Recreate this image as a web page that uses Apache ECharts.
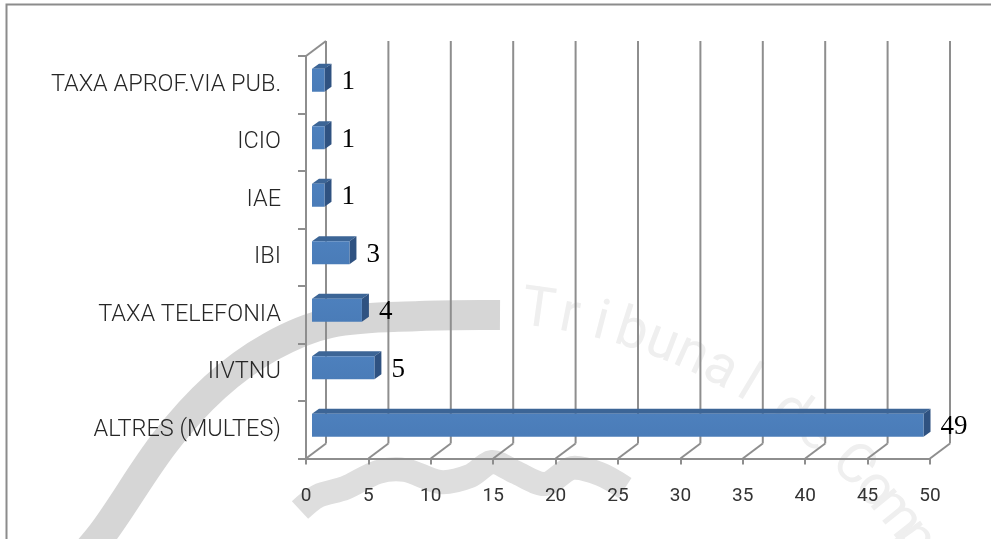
<!DOCTYPE html>
<html>
<head>
<meta charset="utf-8">
<script src="https://cdn.jsdelivr.net/npm/echarts@6/dist/echarts.min.js"></script>
<style>
  html, body { margin: 0; padding: 0; background: #fff; }
  #chart { width: 991px; height: 539px; }
</style>
</head>
<body>
<div id="chart"></div>
<script>
// data
const categories = ['TAXA APROF.VIA PUB.', 'ICIO', 'IAE', 'IBI', 'TAXA TELEFONIA', 'IIVTNU', 'ALTRES (MULTES)'];
const values = [1, 1, 1, 3, 4, 5, 49];
const xTicks = [0, 5, 10, 15, 20, 25, 30, 35, 40, 45, 50];

// fake 3d depth
const wallDx = 20, wallDy = -15;
const barShiftX = 6, barShiftY = -4.5, barH = 23, barDx = 7, barDy = -5;
const gridColor = '#8e8e8e';

const chart = echarts.init(document.getElementById('chart'));

function renderWall (params, api) {
    const t = api.value(0);
    const cs = params.coordSys;
    const xf = api.coord([t, 0])[0];
    const top = cs.y, bottom = cs.y + cs.height;
    const style = { stroke: gridColor, lineWidth: 2, fill: null };
    const children = [
        { type: 'line', shape: { x1: xf, y1: bottom, x2: xf + wallDx, y2: bottom + wallDy }, style },
        { type: 'line', shape: { x1: xf + wallDx, y1: bottom + wallDy, x2: xf + wallDx, y2: top + wallDy }, style }
    ];
    if (t === xTicks[0]) {
        children.push({ type: 'line', shape: { x1: xf, y1: top, x2: xf + wallDx, y2: top + wallDy }, style });
    }
    return { type: 'group', children };
}

function renderBar (params, api) {
    const v = api.value(0);
    const c = api.value(1);
    const p0 = api.coord([0, c]);
    const p1 = api.coord([v, c]);
    const x = p0[0] + barShiftX;
    const w = p1[0] - p0[0];
    const y = p0[1] + barShiftY - barH / 2;
    return {
        type: 'group',
        children: [
            { type: 'polygon', shape: { points: [[x, y], [x + w, y], [x + w + barDx, y + barDy], [x + barDx, y + barDy]] },
              style: { fill: '#3c6596' } },
            { type: 'polygon', shape: { points: [[x + w, y], [x + w + barDx, y + barDy], [x + w + barDx, y + barH + barDy], [x + w, y + barH]] },
              style: { fill: '#2f5281' } },
            { type: 'rect', shape: { x: x, y: y, width: w, height: barH },
              style: { fill: new echarts.graphic.LinearGradient(0, 0, 0, 1, [
                  { offset: 0, color: '#4d80bd' }, { offset: 1, color: '#4a7cb8' }]) } },
            { type: 'text', style: { text: String(v), x: x + w + barDx + 10, y: y + barH / 2 + 2,
              verticalAlign: 'middle', align: 'left', fill: '#000',
              font: '27px "Liberation Serif"' } }
        ]
    };
}

// watermark letters along an arc
const wmText = 'Tribunal de Comptes';
const wmLetters = [];
const wmCx = 463, wmCy = 861, wmR = 554;
let ang = -1.435;
for (let i = 0; i < wmText.length; i++) {
    const ch = wmText[i];
    wmLetters.push({
        type: 'text',
        x: wmCx + wmR * Math.cos(ang),
        y: wmCy + wmR * Math.sin(ang),
        rotation: -(ang + Math.PI / 2),
        z: -5,
        style: { text: ch, font: '56px Roboto', fill: '#efefef', align: 'center', verticalAlign: 'middle' }
    });
    ang += (ch === ' ' ? 18 : 32) / wmR;
}

const option = {
    animation: false,
    backgroundColor: '#fff',
    graphic: [
        { type: 'rect', z: -10, shape: { x: 6.5, y: 4.5, width: 1200, height: 800 },
          style: { fill: null, stroke: '#8c8c8c', lineWidth: 2 } },
        { type: 'polyline', z: -6, shape: { smooth: 0.35, points: [[80, 560], [105, 530], [165, 442], [215, 387],
              [270, 347], [330, 323], [420, 316], [500, 315]] },
          style: { fill: null, stroke: '#d6d6d6', lineWidth: 30 } },
        { type: 'polyline', z: -6, shape: { smooth: 0.3, points: [[300, 510], [318, 496], [345, 488], [378, 472], [405, 470],
              [440, 482], [470, 476], [492, 462], [515, 472], [545, 484], [572, 468], [600, 474], [625, 488]] },
          style: { fill: null, stroke: '#dedede', lineWidth: 24 } }
    ].concat(wmLetters),
    grid: { left: 306, right: 61, top: 56, bottom: 80.5 },
    xAxis: {
        type: 'value', min: 0, max: 50, interval: 5,
        axisLine: { show: true, lineStyle: { color: gridColor, width: 2 } },
        axisTick: { show: true, length: 6, lineStyle: { color: gridColor, width: 2 } },
        splitLine: { show: false },
        axisLabel: { margin: 28, fontFamily: 'Roboto', fontSize: 19, color: '#333' }
    },
    yAxis: {
        type: 'category', data: categories, inverse: true,
        axisLine: { show: true, lineStyle: { color: gridColor, width: 2 } },
        axisTick: { show: true, length: 8, lineStyle: { color: gridColor, width: 2 } },
        axisLabel: { margin: 25, fontFamily: 'Roboto', fontSize: 23.5, fontWeight: 300, color: '#262626' }
    },
    series: [
        { type: 'custom', renderItem: renderWall, z: 1, silent: true,
          data: xTicks.map(t => [t, 0]) },
        { type: 'custom', renderItem: renderBar, z: 3,
          data: values.map((v, i) => [v, i]) }
    ]
};

chart.setOption(option);
</script>
</body>
</html>
